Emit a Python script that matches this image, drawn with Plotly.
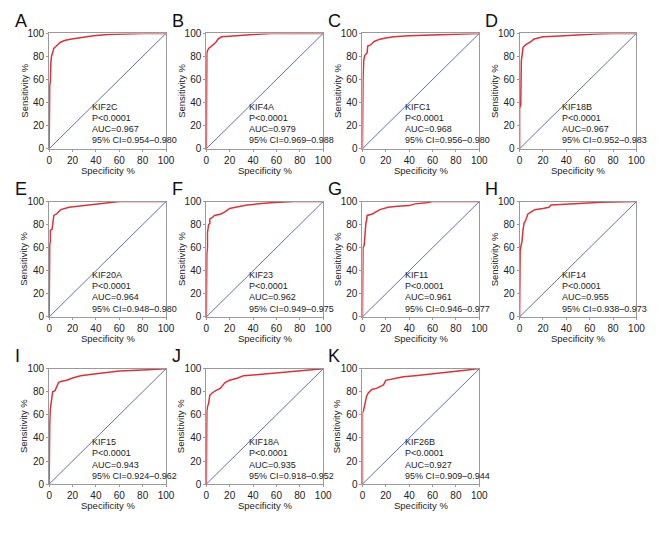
import plotly.graph_objects as go

FONT = "Liberation Sans, Arial, sans-serif"

letters = ["A", "B", "C", "D", "E", "F", "G", "H", "I", "J", "K"]
genes = ["KIF2C", "KIF4A", "KIFC1", "KIF18B", "KIF20A", "KIF23", "KIF11", "KIF14", "KIF15", "KIF18A", "KIF26B"]
pvals = ["P<0.0001"] * 11
aucs = ["0.967", "0.979", "0.968", "0.967", "0.964", "0.962", "0.961", "0.955", "0.943", "0.935", "0.927"]
cis = ["0.954–0.980", "0.969–0.988", "0.956–0.980", "0.952–0.983", "0.948–0.980", "0.949–0.975",
       "0.946–0.977", "0.938–0.973", "0.924–0.962", "0.918–0.952", "0.909–0.944"]

roc_x = [
    [0, 0, 0.5, 0.5, 1, 1, 1.5, 2, 3, 4, 5, 7, 10, 14, 18, 25, 32, 38, 50, 65, 80, 100],
    [0, 0, 0.5, 0.5, 1, 2, 4, 6, 8, 10, 13, 20, 30, 40, 55, 100],
    [0, 0, 0.5, 1, 1, 2, 3, 4, 4.5, 7, 10, 15, 20, 27, 40, 60, 80, 100],
    [0, 0, 1, 1, 1.5, 2.5, 3, 5, 7, 10, 12, 16, 20, 30, 45, 65, 80, 100],
    [0, 0, 0.5, 0.5, 1, 1, 2.5, 3, 4, 6, 8, 10, 17, 25, 35, 42, 50, 60, 100],
    [0, 0, 0.5, 1, 1, 2, 3, 3, 5, 7, 12, 16, 20, 25, 35, 45, 55, 75, 100],
    [0, 0, 0.5, 1.5, 2, 2.5, 3, 3.5, 4, 8, 12, 15, 22, 30, 40, 45, 55, 60, 100],
    [0, 0, 0.5, 1.5, 2, 3, 4, 5, 6, 7, 10, 13, 20, 25, 27, 40, 55, 70, 90, 100],
    [0, 0, 0.5, 1, 2, 3, 5, 6, 8, 10, 15, 20, 27, 35, 45, 55, 60, 80, 95, 100],
    [0, 0, 0.5, 1, 2, 3, 5, 8, 12, 16, 20, 27, 32, 45, 55, 65, 75, 85, 98, 100],
    [0, 0, 1, 2, 3.5, 5, 8, 12, 16, 18, 20, 25, 30, 35, 45, 55, 65, 75, 82, 90, 98, 100],
]
roc_y = [
    [0, 40, 45, 55, 58, 66, 75, 80, 84, 87, 88, 90, 92.5, 94, 95, 96, 97, 98, 99, 99.5, 100, 100],
    [0, 60, 62, 83, 85, 87, 88.5, 90, 92, 95, 97, 97.5, 98.5, 99, 100, 100],
    [0, 55, 60, 74, 76, 81, 82, 83, 89, 90, 93, 95, 96, 97, 98, 98.5, 99.5, 100],
    [0, 35, 38, 50, 76, 84, 88, 90, 91, 93, 95, 96, 97, 97.5, 98.5, 99.5, 100, 100],
    [0, 33, 35, 63, 65, 75, 76, 83, 88, 89, 91, 93, 95, 96, 97, 98, 99, 100, 100],
    [0, 52, 55, 60, 73, 80, 81, 85, 86, 88, 89, 91, 94, 95, 97, 98, 99, 100, 100],
    [0, 37, 60, 62, 72, 80, 82, 83, 88, 89, 91, 93, 95, 96, 96.5, 98, 99, 100, 100],
    [0, 37, 57, 63, 65, 76, 82, 83, 87, 89, 91, 93, 94, 95, 97, 97.5, 98.5, 99.5, 100, 100],
    [0, 28, 52, 65, 72, 80, 81, 84, 88, 89, 90, 92, 94, 95, 96, 97, 98, 99, 100, 100],
    [0, 45, 63, 67, 70, 77, 79, 81, 83, 88, 90, 92, 94, 95, 96, 97, 98, 99, 100, 100],
    [0, 62, 64, 70, 76, 79, 82, 83, 85, 86, 90, 91, 92, 93, 94, 95, 96, 97, 98, 99, 100, 100],
]
ref_line = [0, 100]
tick_vals = [0, 20, 40, 60, 80, 100]
tick_text = ["0", "20", "40", "60", "80", "100"]

W, H = 670, 540
col_left = [47, 207, 366, 526]
row_top = [28, 200, 371]
pw, ph = 119, 118

fig = go.Figure()
annotations = []
layout = {}
for i in range(11):
    r, c = divmod(i, 4)
    x0 = col_left[c]
    y0 = row_top[r]
    xd = [x0 / W, (x0 + pw) / W]
    yd = [1 - (y0 + ph) / H, 1 - y0 / H]
    n = "" if i == 0 else str(i + 1)
    xa, ya = "x" + n, "y" + n
    axcommon = dict(range=[0, 100], tickvals=tick_vals, ticktext=tick_text, showgrid=False, zeroline=False,
                    showline=True, linecolor="#9a9a9a", linewidth=1, mirror=True,
                    ticks="outside", ticklen=2, tickcolor="#9a9a9a",
                    tickfont=dict(family=FONT, size=10, color="#222"))
    layout["xaxis" + n] = dict(domain=xd, anchor=ya, **axcommon)
    layout["yaxis" + n] = dict(domain=yd, anchor=xa, **axcommon)
    fig.add_trace(go.Scatter(x=ref_line, y=ref_line, xaxis=xa, yaxis=ya, mode="lines",
                             line=dict(color="#3a4a9a", width=0.8), showlegend=False, hoverinfo="skip"))
    fig.add_trace(go.Scatter(x=roc_x[i], y=roc_y[i], xaxis=xa, yaxis=ya, mode="lines",
                             line=dict(color="#d8333b", width=1.5), showlegend=False))
    # panel letter
    annotations.append(dict(text=letters[i], xref="paper", yref="paper", x=(x0 - 37) / W, y=1 - (y0 - 13) / H,
                            xanchor="left", yanchor="middle", showarrow=False,
                            font=dict(family=FONT, size=18, color="#111")))
    # axis titles
    annotations.append(dict(text="Specificity %", xref="paper", yref="paper", x=(x0 + pw / 2) / W,
                            y=1 - (y0 + ph + 22) / H, xanchor="center", yanchor="middle", showarrow=False,
                            font=dict(family=FONT, size=9.5, color="#222")))
    annotations.append(dict(text="Sensitivity %", xref="paper", yref="paper", x=(x0 - 26) / W,
                            y=1 - (y0 + ph / 2) / H, xanchor="center", yanchor="middle", showarrow=False,
                            textangle=-90, font=dict(family=FONT, size=9.5, color="#222")))
    lines = [genes[i], pvals[i], "AUC=" + aucs[i], "95% CI=" + cis[i]]
    for k, t in enumerate(lines):
        annotations.append(dict(text=t, xref=xa + " domain", yref=ya + " domain", x=0.35,
                                y=(ph - (75 + 11.5 * k)) / ph, xanchor="left", yanchor="middle",
                                showarrow=False, font=dict(family=FONT, size=9, color="#222")))

fig.update_layout(width=W, height=H, margin=dict(l=0, r=0, t=0, b=0), plot_bgcolor="white",
                  paper_bgcolor="white", annotations=annotations, **layout)
fig.write_html("out.html", config={"displayModeBar": False},
               post_script="document.body.style.margin='0';")
